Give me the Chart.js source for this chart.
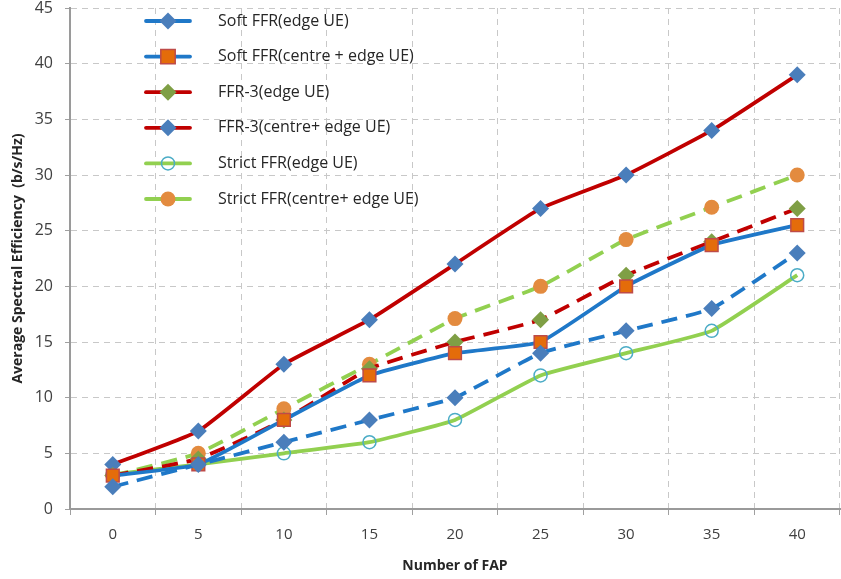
<!DOCTYPE html>
<html>
<head>
<meta charset="utf-8">
<script src="https://cdn.jsdelivr.net/npm/chart.js@4.4.1/dist/chart.umd.min.js"></script>
<style>
  html, body { margin: 0; padding: 0; background: #fff; }
  #wrap { width: 841px; height: 579px; position: relative; }
</style>
</head>
<body>
<div id="wrap"><canvas id="myChart"></canvas></div>
<script>
// Data
const faps = ['0', '5', '10', '15', '20', '25', '30', '35', '40'];
const softEdge = [2, 4, 6, 8, 10, 14, 16, 18, 23];
const softCentreEdge = [3, 4, 8, 12, 14, 15, 20, 23.7, 25.5];
const ffr3Edge = [3, 4.5, 8, 12.6, 15, 17, 21, 24, 27];
const ffr3CentreEdge = [4, 7, 13, 17, 22, 27, 30, 34, 39];
const strictEdge = [3.1, 4, 5, 6, 8, 12, 14, 16, 21];
const strictCentreEdge = [3, 5, 9, 13, 17.1, 20, 24.2, 27.1, 30];
const yTicks = [0, 5, 10, 15, 20, 25, 30, 35, 40, 45];

const font = "'Open Sans', sans-serif";
const blue = '#1f78c8';
const red = '#c00000';
const green = '#92d050';

function series(label, data, color, dash, pStyle, pFill, pBorder, pRadius, pBorderW) {
  return {
    label: label,
    data: data,
    borderColor: color,
    borderWidth: 3.8,
    borderDash: dash,
    tension: 0.12,
    pointStyle: pStyle,
    pointRadius: pRadius,
    pointHoverRadius: pRadius,
    backgroundColor: pFill,
    pointBackgroundColor: pFill,
    pointBorderColor: pBorder,
    pointBorderWidth: pBorderW,
    fill: false
  };
}

// legend drawn inside the plot, like the excel one
const insideLegend = {
  id: 'insideLegend',
  afterDraw(chart) {
    const ctx = chart.ctx;
    const x0 = 146, x1 = 190, tx = 218;
    let y = 21;
    chart.data.datasets.forEach(function(ds) {
      ctx.save();
      ctx.strokeStyle = ds.borderColor;
      ctx.lineWidth = 3.8;
      ctx.lineCap = 'round';
      ctx.beginPath();
      ctx.moveTo(x0, y);
      ctx.lineTo(x1, y);
      ctx.stroke();
      const cx = (x0 + x1) / 2;
      const r = ds.pointRadius;
      ctx.fillStyle = ds.pointBackgroundColor;
      ctx.strokeStyle = ds.pointBorderColor;
      ctx.lineWidth = ds.pointBorderWidth;
      ctx.beginPath();
      if (ds.pointStyle === 'rectRot') {
        ctx.moveTo(cx, y - r); ctx.lineTo(cx + r, y); ctx.lineTo(cx, y + r); ctx.lineTo(cx - r, y); ctx.closePath();
      } else if (ds.pointStyle === 'rect') {
        const s = r * 0.8;
        ctx.rect(cx - s, y - s, s * 2, s * 2);
      } else {
        ctx.arc(cx, y, r, 0, Math.PI * 2);
      }
      ctx.fill();
      if (ds.pointBorderWidth) ctx.stroke();
      ctx.fillStyle = '#262626';
      ctx.font = '16px ' + font;
      ctx.textBaseline = 'middle';
      ctx.fillText(ds.label, tx, y);
      ctx.restore();
      y += 35.6;
    });
  }
};

const ctx = document.getElementById('myChart');

new Chart(ctx, {
  type: 'line',
  data: {
    labels: faps,
    datasets: [
      series('Soft FFR(edge UE)', softEdge, blue, [16, 9], 'rectRot', '#4a7ebb', '#4a7ebb', 8.5, 0),
      series('Soft FFR(centre + edge UE)', softCentreEdge, blue, [], 'rect', '#e46c0a', '#be4b48', 9, 1.5),
      series('FFR-3(edge UE)', ffr3Edge, red, [16, 9], 'rectRot', '#7f9f45', '#7f9f45', 8.5, 0),
      series('FFR-3(centre+ edge UE)', ffr3CentreEdge, red, [], 'rectRot', '#4a7ebb', '#4a7ebb', 8.5, 0),
      series('Strict FFR(edge UE)', strictEdge, green, [], 'circle', 'rgba(255,255,255,0)', '#4bacc6', 6.5, 1.5),
      series('Strict FFR(centre+ edge UE)', strictCentreEdge, green, [16, 9], 'circle', '#e38b3f', '#e38b3f', 7.5, 0)
    ]
  },
  options: {
    responsive: true,
    maintainAspectRatio: false,
    animation: false,
    layout: { autoPadding: false, padding: { top: 8, right: 1, left: 0, bottom: 0 } },
    plugins: {
      legend: { display: false },
      tooltip: { enabled: false }
    },
    scales: {
      x: {
        type: 'category',
        offset: true,
        grid: {
          offset: true,
          color: '#c8c8c8',
          lineWidth: 1,
          tickLength: 6,
          tickColor: '#a0a0a0'
        },
        border: { display: true, color: '#9a9a9a', width: 2, dash: [6, 5] },
        ticks: { color: '#404040', font: { family: font, size: 15 }, padding: 11 },
        title: {
          display: true,
          text: 'Number of FAP',
          color: '#262626',
          font: { family: font, size: 14, weight: 'bold' },
          padding: { top: 2, bottom: 5 }
        },
        afterFit(scale) {
          scale.height = 70;
          scale.paddingLeft = 0;
          scale.paddingRight = 0;
        }
      },
      y: {
        min: 0,
        max: 45,
        afterBuildTicks(scale) { scale.ticks = yTicks.map(v => ({ value: v })); },
        grid: {
          color: '#c8c8c8',
          lineWidth: 1,
          tickLength: 5,
          tickColor: '#a0a0a0'
        },
        border: { display: true, color: '#9a9a9a', width: 2, dash: [6, 5] },
        ticks: { color: '#404040', font: { family: font, size: 16 }, padding: 12 },
        title: {
          display: true,
          text: 'Average Spectral Efficiency  (b/s/Hz)',
          color: '#262626',
          font: { family: font, size: 14, weight: 'bold' },
          padding: { top: 10, bottom: 0 }
        },
        afterFit(scale) {
          scale.width = 70;
          scale.paddingTop = 0;
          scale.paddingBottom = 0;
        }
      }
    }
  },
  plugins: [insideLegend]
});
</script>
</body>
</html>
